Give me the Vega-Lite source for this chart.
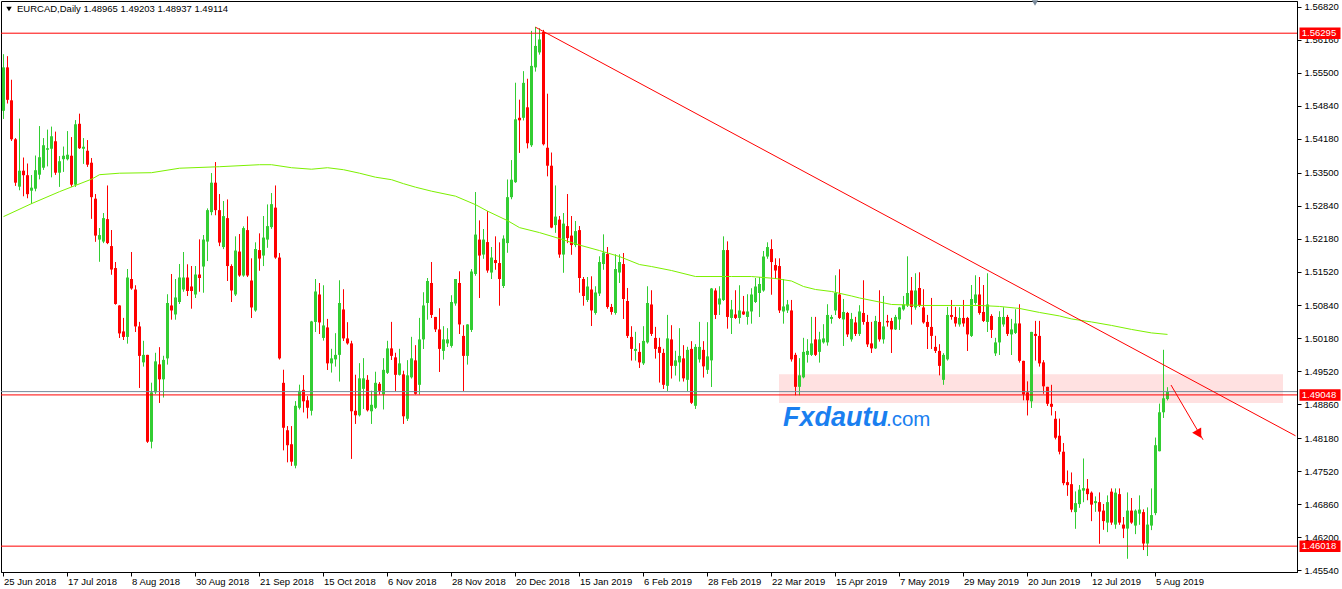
{
"$schema": "https://vega.github.io/schema/vega-lite/v6.json",
"width": 1296,
"height": 571,
"autosize": {"type": "none"},
"padding": {"left": 1, "top": 1, "right": 45, "bottom": 17},
"background": "#ffffff",
"config": {
  "view": {"stroke": "#000000", "strokeWidth": 1},
  "axis": {"labelFont": "Liberation Sans", "labelFontSize": 9.5, "labelColor": "#000000", "domainColor": "#000000", "tickColor": "#000000", "grid": false, "labelOverlap": false},
  "text": {"font": "Liberation Sans"}
},
"datasets": {
"candles": [
{"d":"2018-06-25","o":1.5474,"h":1.5587,"l":1.5458,"c":1.5561},
{"d":"2018-06-26","o":1.5561,"h":1.5583,"l":1.5489,"c":1.5496},
{"d":"2018-06-27","o":1.5495,"h":1.5536,"l":1.5414,"c":1.5417},
{"d":"2018-06-28","o":1.5417,"h":1.5419,"l":1.5324,"c":1.5330},
{"d":"2018-06-29","o":1.5322,"h":1.5458,"l":1.5315,"c":1.5354},
{"d":"2018-07-02","o":1.5354,"h":1.5380,"l":1.5303,"c":1.5345},
{"d":"2018-07-03","o":1.5345,"h":1.5368,"l":1.5299,"c":1.5307},
{"d":"2018-07-04","o":1.5314,"h":1.5345,"l":1.5288,"c":1.5320},
{"d":"2018-07-05","o":1.5318,"h":1.5384,"l":1.5313,"c":1.5355},
{"d":"2018-07-06","o":1.5346,"h":1.5443,"l":1.5337,"c":1.5381},
{"d":"2018-07-09","o":1.5360,"h":1.5419,"l":1.5356,"c":1.5405},
{"d":"2018-07-10","o":1.5396,"h":1.5436,"l":1.5363,"c":1.5399},
{"d":"2018-07-11","o":1.5398,"h":1.5442,"l":1.5341,"c":1.5423},
{"d":"2018-07-12","o":1.5413,"h":1.5432,"l":1.5346,"c":1.5350},
{"d":"2018-07-13","o":1.5350,"h":1.5383,"l":1.5322,"c":1.5373},
{"d":"2018-07-16","o":1.5377,"h":1.5402,"l":1.5352,"c":1.5384},
{"d":"2018-07-17","o":1.5377,"h":1.5433,"l":1.5375,"c":1.5386},
{"d":"2018-07-18","o":1.5384,"h":1.5421,"l":1.5322,"c":1.5326},
{"d":"2018-07-19","o":1.5326,"h":1.5455,"l":1.5322,"c":1.5447},
{"d":"2018-07-20","o":1.5448,"h":1.5468,"l":1.5398,"c":1.5399},
{"d":"2018-07-23","o":1.5398,"h":1.5419,"l":1.5368,"c":1.5402},
{"d":"2018-07-24","o":1.5394,"h":1.5415,"l":1.5362,"c":1.5366},
{"d":"2018-07-25","o":1.5370,"h":1.5379,"l":1.5258,"c":1.5301},
{"d":"2018-07-26","o":1.5298,"h":1.5307,"l":1.5212,"c":1.5224},
{"d":"2018-07-27","o":1.5216,"h":1.5239,"l":1.5172,"c":1.5225},
{"d":"2018-07-30","o":1.5212,"h":1.5269,"l":1.5209,"c":1.5259},
{"d":"2018-07-31","o":1.5257,"h":1.5324,"l":1.5207,"c":1.5209},
{"d":"2018-08-01","o":1.5203,"h":1.5235,"l":1.5146,"c":1.5156},
{"d":"2018-08-02","o":1.5159,"h":1.5171,"l":1.5086,"c":1.5087},
{"d":"2018-08-03","o":1.5084,"h":1.5084,"l":1.5019,"c":1.5028},
{"d":"2018-08-06","o":1.5032,"h":1.5059,"l":1.5015,"c":1.5021},
{"d":"2018-08-07","o":1.5021,"h":1.5157,"l":1.5008,"c":1.5140},
{"d":"2018-08-08","o":1.5137,"h":1.5191,"l":1.5116,"c":1.5118},
{"d":"2018-08-09","o":1.5116,"h":1.5124,"l":1.5031,"c":1.5042},
{"d":"2018-08-10","o":1.5042,"h":1.5051,"l":1.4919,"c":1.4983},
{"d":"2018-08-13","o":1.4970,"h":1.5013,"l":1.4962,"c":1.4985},
{"d":"2018-08-14","o":1.4985,"h":1.4985,"l":1.4809,"c":1.4811},
{"d":"2018-08-15","o":1.4811,"h":1.4929,"l":1.4798,"c":1.4910},
{"d":"2018-08-16","o":1.4910,"h":1.4989,"l":1.4907,"c":1.4972},
{"d":"2018-08-17","o":1.4966,"h":1.5000,"l":1.4889,"c":1.4936},
{"d":"2018-08-20","o":1.4936,"h":1.4983,"l":1.4900,"c":1.4975},
{"d":"2018-08-21","o":1.4978,"h":1.5106,"l":1.4966,"c":1.5089},
{"d":"2018-08-22","o":1.5084,"h":1.5147,"l":1.5056,"c":1.5074},
{"d":"2018-08-23","o":1.5066,"h":1.5137,"l":1.5056,"c":1.5100},
{"d":"2018-08-24","o":1.5091,"h":1.5167,"l":1.5087,"c":1.5140},
{"d":"2018-08-27","o":1.5116,"h":1.5191,"l":1.5112,"c":1.5140},
{"d":"2018-08-28","o":1.5140,"h":1.5166,"l":1.5103,"c":1.5113},
{"d":"2018-08-29","o":1.5122,"h":1.5163,"l":1.5078,"c":1.5113},
{"d":"2018-08-30","o":1.5106,"h":1.5163,"l":1.5099,"c":1.5146},
{"d":"2018-08-31","o":1.5146,"h":1.5216,"l":1.5112,"c":1.5139},
{"d":"2018-09-03","o":1.5162,"h":1.5225,"l":1.5110,"c":1.5216},
{"d":"2018-09-04","o":1.5212,"h":1.5278,"l":1.5173,"c":1.5275},
{"d":"2018-09-05","o":1.5271,"h":1.5349,"l":1.5265,"c":1.5330},
{"d":"2018-09-06","o":1.5330,"h":1.5371,"l":1.5265,"c":1.5275},
{"d":"2018-09-07","o":1.5275,"h":1.5307,"l":1.5203,"c":1.5210},
{"d":"2018-09-10","o":1.5201,"h":1.5293,"l":1.5197,"c":1.5263},
{"d":"2018-09-11","o":1.5259,"h":1.5296,"l":1.5133,"c":1.5163},
{"d":"2018-09-12","o":1.5163,"h":1.5166,"l":1.5091,"c":1.5114},
{"d":"2018-09-13","o":1.5106,"h":1.5222,"l":1.5103,"c":1.5194},
{"d":"2018-09-14","o":1.5192,"h":1.5227,"l":1.5142,"c":1.5144},
{"d":"2018-09-17","o":1.5144,"h":1.5242,"l":1.5142,"c":1.5239},
{"d":"2018-09-18","o":1.5235,"h":1.5262,"l":1.5141,"c":1.5144},
{"d":"2018-09-19","o":1.5134,"h":1.5178,"l":1.5059,"c":1.5080},
{"d":"2018-09-20","o":1.5074,"h":1.5210,"l":1.5072,"c":1.5197},
{"d":"2018-09-21","o":1.5195,"h":1.5228,"l":1.5154,"c":1.5178},
{"d":"2018-09-24","o":1.5184,"h":1.5263,"l":1.5163,"c":1.5220},
{"d":"2018-09-25","o":1.5216,"h":1.5286,"l":1.5200,"c":1.5243},
{"d":"2018-09-26","o":1.5241,"h":1.5309,"l":1.5238,"c":1.5287},
{"d":"2018-09-27","o":1.5280,"h":1.5324,"l":1.5178,"c":1.5180},
{"d":"2018-09-28","o":1.5180,"h":1.5189,"l":1.4976,"c":1.4978},
{"d":"2018-10-01","o":1.4929,"h":1.4955,"l":1.4794,"c":1.4839},
{"d":"2018-10-02","o":1.4834,"h":1.4842,"l":1.4770,"c":1.4804},
{"d":"2018-10-03","o":1.4806,"h":1.4842,"l":1.4763,"c":1.4771},
{"d":"2018-10-04","o":1.4763,"h":1.4892,"l":1.4758,"c":1.4883},
{"d":"2018-10-05","o":1.4879,"h":1.4925,"l":1.4876,"c":1.4913},
{"d":"2018-10-08","o":1.4915,"h":1.4944,"l":1.4870,"c":1.4892},
{"d":"2018-10-09","o":1.4894,"h":1.4902,"l":1.4858,"c":1.4879},
{"d":"2018-10-10","o":1.4873,"h":1.5053,"l":1.4864,"c":1.5052},
{"d":"2018-10-11","o":1.5051,"h":1.5137,"l":1.5031,"c":1.5112},
{"d":"2018-10-12","o":1.5106,"h":1.5129,"l":1.5027,"c":1.5050},
{"d":"2018-10-15","o":1.5019,"h":1.5124,"l":1.5014,"c":1.5044},
{"d":"2018-10-16","o":1.5040,"h":1.5057,"l":1.4955,"c":1.4968},
{"d":"2018-10-17","o":1.4968,"h":1.4997,"l":1.4950,"c":1.4978},
{"d":"2018-10-18","o":1.4976,"h":1.5028,"l":1.4962,"c":1.4985},
{"d":"2018-10-19","o":1.4985,"h":1.5134,"l":1.4932,"c":1.5089},
{"d":"2018-10-22","o":1.5076,"h":1.5116,"l":1.5013,"c":1.5018},
{"d":"2018-10-23","o":1.5018,"h":1.5050,"l":1.5006,"c":1.5008},
{"d":"2018-10-24","o":1.5008,"h":1.5013,"l":1.4777,"c":1.4872},
{"d":"2018-10-25","o":1.4873,"h":1.4945,"l":1.4847,"c":1.4864},
{"d":"2018-10-26","o":1.4864,"h":1.4968,"l":1.4862,"c":1.4938},
{"d":"2018-10-29","o":1.4917,"h":1.4978,"l":1.4877,"c":1.4938},
{"d":"2018-10-30","o":1.4935,"h":1.4944,"l":1.4872,"c":1.4874},
{"d":"2018-10-31","o":1.4872,"h":1.4913,"l":1.4847,"c":1.4885},
{"d":"2018-11-01","o":1.4879,"h":1.4951,"l":1.4877,"c":1.4929},
{"d":"2018-11-02","o":1.4927,"h":1.4930,"l":1.4906,"c":1.4913},
{"d":"2018-11-05","o":1.4906,"h":1.4978,"l":1.4876,"c":1.4955},
{"d":"2018-11-06","o":1.4949,"h":1.5013,"l":1.4947,"c":1.4998},
{"d":"2018-11-07","o":1.4998,"h":1.5051,"l":1.4975,"c":1.4983},
{"d":"2018-11-08","o":1.4980,"h":1.4989,"l":1.4913,"c":1.4945},
{"d":"2018-11-09","o":1.4945,"h":1.4997,"l":1.4944,"c":1.4968},
{"d":"2018-11-12","o":1.4946,"h":1.4953,"l":1.4847,"c":1.4862},
{"d":"2018-11-13","o":1.4857,"h":1.4974,"l":1.4853,"c":1.4944},
{"d":"2018-11-14","o":1.4940,"h":1.5021,"l":1.4938,"c":1.4978},
{"d":"2018-11-15","o":1.4974,"h":1.5004,"l":1.4906,"c":1.4907},
{"d":"2018-11-16","o":1.4925,"h":1.5059,"l":1.4906,"c":1.5016},
{"d":"2018-11-19","o":1.5016,"h":1.5110,"l":1.4997,"c":1.5084},
{"d":"2018-11-20","o":1.5089,"h":1.5139,"l":1.5056,"c":1.5133},
{"d":"2018-11-21","o":1.5129,"h":1.5171,"l":1.5059,"c":1.5065},
{"d":"2018-11-22","o":1.5061,"h":1.5061,"l":1.5031,"c":1.5036},
{"d":"2018-11-23","o":1.5036,"h":1.5078,"l":1.4951,"c":1.4997},
{"d":"2018-11-26","o":1.4993,"h":1.5042,"l":1.4976,"c":1.5016},
{"d":"2018-11-27","o":1.5008,"h":1.5038,"l":1.5001,"c":1.5016},
{"d":"2018-11-28","o":1.5003,"h":1.5104,"l":1.5000,"c":1.5091},
{"d":"2018-11-29","o":1.5088,"h":1.5137,"l":1.5084,"c":1.5137},
{"d":"2018-11-30","o":1.5129,"h":1.5152,"l":1.5027,"c":1.5046},
{"d":"2018-12-03","o":1.5023,"h":1.5044,"l":1.4913,"c":1.4983},
{"d":"2018-12-04","o":1.4983,"h":1.5046,"l":1.4966,"c":1.5046},
{"d":"2018-12-05","o":1.5035,"h":1.5157,"l":1.5031,"c":1.5152},
{"d":"2018-12-06","o":1.5147,"h":1.5311,"l":1.5144,"c":1.5226},
{"d":"2018-12-07","o":1.5216,"h":1.5254,"l":1.5099,"c":1.5184},
{"d":"2018-12-10","o":1.5186,"h":1.5237,"l":1.5178,"c":1.5216},
{"d":"2018-12-11","o":1.5211,"h":1.5273,"l":1.5150,"c":1.5154},
{"d":"2018-12-12","o":1.5150,"h":1.5201,"l":1.5137,"c":1.5180},
{"d":"2018-12-13","o":1.5175,"h":1.5222,"l":1.5156,"c":1.5169},
{"d":"2018-12-14","o":1.5169,"h":1.5210,"l":1.5084,"c":1.5137},
{"d":"2018-12-17","o":1.5123,"h":1.5224,"l":1.5119,"c":1.5218},
{"d":"2018-12-18","o":1.5209,"h":1.5336,"l":1.5190,"c":1.5301},
{"d":"2018-12-19","o":1.5301,"h":1.5375,"l":1.5297,"c":1.5336},
{"d":"2018-12-20","o":1.5331,"h":1.5530,"l":1.5330,"c":1.5457},
{"d":"2018-12-21","o":1.5460,"h":1.5496,"l":1.5390,"c":1.5455},
{"d":"2018-12-24","o":1.5460,"h":1.5553,"l":1.5455,"c":1.5530},
{"d":"2018-12-26","o":1.5481,"h":1.5538,"l":1.5399,"c":1.5409},
{"d":"2018-12-27","o":1.5405,"h":1.5634,"l":1.5402,"c":1.5564},
{"d":"2018-12-28","o":1.5561,"h":1.5642,"l":1.5553,"c":1.5604},
{"d":"2018-12-31","o":1.5591,"h":1.5639,"l":1.5587,"c":1.5617},
{"d":"2019-01-02","o":1.5632,"h":1.5636,"l":1.5405,"c":1.5407},
{"d":"2019-01-03","o":1.5400,"h":1.5508,"l":1.5343,"c":1.5364},
{"d":"2019-01-04","o":1.5364,"h":1.5390,"l":1.5239,"c":1.5240},
{"d":"2019-01-07","o":1.5245,"h":1.5324,"l":1.5230,"c":1.5262},
{"d":"2019-01-08","o":1.5256,"h":1.5263,"l":1.5180,"c":1.5186},
{"d":"2019-01-09","o":1.5186,"h":1.5269,"l":1.5150,"c":1.5248},
{"d":"2019-01-10","o":1.5243,"h":1.5307,"l":1.5209,"c":1.5219},
{"d":"2019-01-11","o":1.5224,"h":1.5263,"l":1.5186,"c":1.5205},
{"d":"2019-01-14","o":1.5205,"h":1.5253,"l":1.5201,"c":1.5233},
{"d":"2019-01-15","o":1.5235,"h":1.5243,"l":1.5110,"c":1.5139},
{"d":"2019-01-16","o":1.5137,"h":1.5141,"l":1.5084,"c":1.5103},
{"d":"2019-01-17","o":1.5095,"h":1.5141,"l":1.5091,"c":1.5122},
{"d":"2019-01-18","o":1.5116,"h":1.5142,"l":1.5043,"c":1.5074},
{"d":"2019-01-21","o":1.5069,"h":1.5122,"l":1.5066,"c":1.5110},
{"d":"2019-01-22","o":1.5108,"h":1.5182,"l":1.5103,"c":1.5171},
{"d":"2019-01-23","o":1.5167,"h":1.5226,"l":1.5156,"c":1.5190},
{"d":"2019-01-24","o":1.5187,"h":1.5201,"l":1.5078,"c":1.5081},
{"d":"2019-01-25","o":1.5081,"h":1.5087,"l":1.5066,"c":1.5071},
{"d":"2019-01-28","o":1.5069,"h":1.5186,"l":1.5066,"c":1.5157},
{"d":"2019-01-29","o":1.5150,"h":1.5186,"l":1.5129,"c":1.5171},
{"d":"2019-01-30","o":1.5167,"h":1.5189,"l":1.5057,"c":1.5097},
{"d":"2019-01-31","o":1.5093,"h":1.5119,"l":1.5019,"c":1.5023},
{"d":"2019-02-01","o":1.5021,"h":1.5042,"l":1.4974,"c":1.4997},
{"d":"2019-02-04","o":1.4993,"h":1.5031,"l":1.4974,"c":1.4997},
{"d":"2019-02-05","o":1.4991,"h":1.5008,"l":1.4959,"c":1.4970},
{"d":"2019-02-06","o":1.4968,"h":1.5042,"l":1.4965,"c":1.5013},
{"d":"2019-02-07","o":1.5010,"h":1.5122,"l":1.5008,"c":1.5089},
{"d":"2019-02-08","o":1.5086,"h":1.5114,"l":1.5023,"c":1.5027},
{"d":"2019-02-11","o":1.5019,"h":1.5041,"l":1.4978,"c":1.4997},
{"d":"2019-02-12","o":1.5001,"h":1.5019,"l":1.4930,"c":1.4989},
{"d":"2019-02-13","o":1.4989,"h":1.4997,"l":1.4917,"c":1.4925},
{"d":"2019-02-14","o":1.4923,"h":1.5065,"l":1.4913,"c":1.5018},
{"d":"2019-02-15","o":1.5016,"h":1.5044,"l":1.4938,"c":1.4963},
{"d":"2019-02-18","o":1.4963,"h":1.4993,"l":1.4944,"c":1.4974},
{"d":"2019-02-19","o":1.4970,"h":1.5038,"l":1.4932,"c":1.4983},
{"d":"2019-02-20","o":1.4978,"h":1.5004,"l":1.4932,"c":1.4938},
{"d":"2019-02-21","o":1.4935,"h":1.5001,"l":1.4913,"c":1.4995},
{"d":"2019-02-22","o":1.4997,"h":1.5012,"l":1.4887,"c":1.4889},
{"d":"2019-02-25","o":1.4883,"h":1.5006,"l":1.4877,"c":1.5001},
{"d":"2019-02-26","o":1.4976,"h":1.5051,"l":1.4970,"c":1.5001},
{"d":"2019-02-27","o":1.4995,"h":1.5012,"l":1.4940,"c":1.4962},
{"d":"2019-02-28","o":1.4955,"h":1.5050,"l":1.4947,"c":1.4982},
{"d":"2019-03-01","o":1.4974,"h":1.5119,"l":1.4921,"c":1.5118},
{"d":"2019-03-04","o":1.5114,"h":1.5118,"l":1.5057,"c":1.5065},
{"d":"2019-03-05","o":1.5086,"h":1.5122,"l":1.5065,"c":1.5098},
{"d":"2019-03-06","o":1.5095,"h":1.5222,"l":1.5093,"c":1.5195},
{"d":"2019-03-07","o":1.5195,"h":1.5212,"l":1.5038,"c":1.5061},
{"d":"2019-03-08","o":1.5059,"h":1.5095,"l":1.5027,"c":1.5076},
{"d":"2019-03-11","o":1.5066,"h":1.5114,"l":1.5057,"c":1.5059},
{"d":"2019-03-12","o":1.5059,"h":1.5124,"l":1.5048,"c":1.5074},
{"d":"2019-03-13","o":1.5072,"h":1.5103,"l":1.5065,"c":1.5066},
{"d":"2019-03-14","o":1.5061,"h":1.5106,"l":1.5046,"c":1.5072},
{"d":"2019-03-15","o":1.5072,"h":1.5118,"l":1.5048,"c":1.5106},
{"d":"2019-03-18","o":1.5091,"h":1.5139,"l":1.5089,"c":1.5122},
{"d":"2019-03-19","o":1.5109,"h":1.5141,"l":1.5061,"c":1.5127},
{"d":"2019-03-20","o":1.5114,"h":1.5193,"l":1.5112,"c":1.5182},
{"d":"2019-03-21","o":1.5182,"h":1.5210,"l":1.5178,"c":1.5201},
{"d":"2019-03-22","o":1.5197,"h":1.5216,"l":1.5106,"c":1.5171},
{"d":"2019-03-25","o":1.5165,"h":1.5178,"l":1.5137,"c":1.5154},
{"d":"2019-03-26","o":1.5163,"h":1.5178,"l":1.5069,"c":1.5074},
{"d":"2019-03-27","o":1.5072,"h":1.5137,"l":1.5048,"c":1.5082},
{"d":"2019-03-28","o":1.5074,"h":1.5095,"l":1.5069,"c":1.5086},
{"d":"2019-03-29","o":1.5074,"h":1.5095,"l":1.4972,"c":1.4976},
{"d":"2019-04-01","o":1.4985,"h":1.4989,"l":1.4904,"c":1.4921},
{"d":"2019-04-02","o":1.4921,"h":1.4978,"l":1.4904,"c":1.4944},
{"d":"2019-04-03","o":1.4940,"h":1.5019,"l":1.4938,"c":1.4991},
{"d":"2019-04-04","o":1.4985,"h":1.5016,"l":1.4970,"c":1.4993},
{"d":"2019-04-05","o":1.4985,"h":1.5061,"l":1.4983,"c":1.5008},
{"d":"2019-04-08","o":1.5016,"h":1.5061,"l":1.4983,"c":1.4985},
{"d":"2019-04-09","o":1.4991,"h":1.5031,"l":1.4970,"c":1.5016},
{"d":"2019-04-10","o":1.5010,"h":1.5046,"l":1.5008,"c":1.5018},
{"d":"2019-04-11","o":1.5010,"h":1.5086,"l":1.5004,"c":1.5065},
{"d":"2019-04-12","o":1.5057,"h":1.5065,"l":1.5048,"c":1.5061},
{"d":"2019-04-15","o":1.5074,"h":1.5144,"l":1.5065,"c":1.5109},
{"d":"2019-04-16","o":1.5106,"h":1.5156,"l":1.5057,"c":1.5059},
{"d":"2019-04-17","o":1.5056,"h":1.5097,"l":1.5003,"c":1.5071},
{"d":"2019-04-18","o":1.5069,"h":1.5071,"l":1.5021,"c":1.5026},
{"d":"2019-04-19","o":1.5016,"h":1.5069,"l":1.5012,"c":1.5057},
{"d":"2019-04-22","o":1.5050,"h":1.5061,"l":1.5023,"c":1.5027},
{"d":"2019-04-23","o":1.5027,"h":1.5084,"l":1.5023,"c":1.5072},
{"d":"2019-04-24","o":1.5069,"h":1.5134,"l":1.5046,"c":1.5051},
{"d":"2019-04-25","o":1.5051,"h":1.5065,"l":1.5001,"c":1.5006},
{"d":"2019-04-26","o":1.5008,"h":1.5051,"l":1.4989,"c":1.4998},
{"d":"2019-04-29","o":1.4998,"h":1.5063,"l":1.4997,"c":1.5053},
{"d":"2019-04-30","o":1.5051,"h":1.5114,"l":1.5012,"c":1.5016},
{"d":"2019-05-01","o":1.5016,"h":1.5103,"l":1.5008,"c":1.5042},
{"d":"2019-05-02","o":1.5053,"h":1.5065,"l":1.5042,"c":1.5050},
{"d":"2019-05-03","o":1.5053,"h":1.5059,"l":1.4989,"c":1.5036},
{"d":"2019-05-06","o":1.5036,"h":1.5065,"l":1.5035,"c":1.5061},
{"d":"2019-05-07","o":1.5056,"h":1.5081,"l":1.5035,"c":1.5080},
{"d":"2019-05-08","o":1.5076,"h":1.5103,"l":1.5074,"c":1.5086},
{"d":"2019-05-09","o":1.5084,"h":1.5182,"l":1.5081,"c":1.5109},
{"d":"2019-05-10","o":1.5114,"h":1.5141,"l":1.5046,"c":1.5081},
{"d":"2019-05-13","o":1.5080,"h":1.5148,"l":1.5076,"c":1.5114},
{"d":"2019-05-14","o":1.5119,"h":1.5150,"l":1.5081,"c":1.5084},
{"d":"2019-05-15","o":1.5080,"h":1.5116,"l":1.5048,"c":1.5050},
{"d":"2019-05-16","o":1.5051,"h":1.5065,"l":1.4997,"c":1.5041},
{"d":"2019-05-17","o":1.5041,"h":1.5099,"l":1.4997,"c":1.5023},
{"d":"2019-05-20","o":1.5001,"h":1.5023,"l":1.4989,"c":1.4993},
{"d":"2019-05-21","o":1.4993,"h":1.5006,"l":1.4944,"c":1.4963},
{"d":"2019-05-22","o":1.4935,"h":1.4988,"l":1.4925,"c":1.4985},
{"d":"2019-05-23","o":1.4976,"h":1.5081,"l":1.4974,"c":1.5065},
{"d":"2019-05-24","o":1.5065,"h":1.5095,"l":1.5056,"c":1.5061},
{"d":"2019-05-27","o":1.5061,"h":1.5081,"l":1.5042,"c":1.5048},
{"d":"2019-05-28","o":1.5046,"h":1.5080,"l":1.5042,"c":1.5059},
{"d":"2019-05-29","o":1.5059,"h":1.5095,"l":1.5042,"c":1.5048},
{"d":"2019-05-30","o":1.5059,"h":1.5061,"l":1.4993,"c":1.5026},
{"d":"2019-05-31","o":1.5023,"h":1.5125,"l":1.5021,"c":1.5097},
{"d":"2019-06-03","o":1.5089,"h":1.5144,"l":1.5086,"c":1.5106},
{"d":"2019-06-04","o":1.5106,"h":1.5141,"l":1.5066,"c":1.5069},
{"d":"2019-06-05","o":1.5071,"h":1.5125,"l":1.5051,"c":1.5053},
{"d":"2019-06-06","o":1.5051,"h":1.5148,"l":1.5031,"c":1.5086},
{"d":"2019-06-07","o":1.5063,"h":1.5066,"l":1.5019,"c":1.5035},
{"d":"2019-06-10","o":1.4988,"h":1.5019,"l":1.4983,"c":1.5010},
{"d":"2019-06-11","o":1.5010,"h":1.5072,"l":1.4985,"c":1.5061},
{"d":"2019-06-12","o":1.5046,"h":1.5080,"l":1.5042,"c":1.5061},
{"d":"2019-06-13","o":1.5061,"h":1.5065,"l":1.5023,"c":1.5027},
{"d":"2019-06-14","o":1.5026,"h":1.5057,"l":1.4985,"c":1.5036},
{"d":"2019-06-17","o":1.5029,"h":1.5076,"l":1.5027,"c":1.5048},
{"d":"2019-06-18","o":1.5048,"h":1.5086,"l":1.4970,"c":1.4973},
{"d":"2019-06-19","o":1.4973,"h":1.4973,"l":1.4894,"c":1.4906},
{"d":"2019-06-20","o":1.4910,"h":1.4932,"l":1.4864,"c":1.4894},
{"d":"2019-06-21","o":1.4892,"h":1.5031,"l":1.4879,"c":1.5031},
{"d":"2019-06-24","o":1.5027,"h":1.5053,"l":1.4974,"c":1.5023},
{"d":"2019-06-25","o":1.5023,"h":1.5053,"l":1.4962,"c":1.4968},
{"d":"2019-06-26","o":1.4970,"h":1.4974,"l":1.4907,"c":1.4922},
{"d":"2019-06-27","o":1.4921,"h":1.4921,"l":1.4883,"c":1.4887},
{"d":"2019-06-28","o":1.4887,"h":1.4925,"l":1.4864,"c":1.4881},
{"d":"2019-07-01","o":1.4857,"h":1.4872,"l":1.4816,"c":1.4819},
{"d":"2019-07-02","o":1.4823,"h":1.4857,"l":1.4786,"c":1.4791},
{"d":"2019-07-03","o":1.4791,"h":1.4808,"l":1.4724,"c":1.4728},
{"d":"2019-07-04","o":1.4730,"h":1.4753,"l":1.4703,"c":1.4724},
{"d":"2019-07-05","o":1.4726,"h":1.4749,"l":1.4670,"c":1.4675},
{"d":"2019-07-08","o":1.4670,"h":1.4711,"l":1.4637,"c":1.4688},
{"d":"2019-07-09","o":1.4686,"h":1.4724,"l":1.4679,"c":1.4715},
{"d":"2019-07-10","o":1.4713,"h":1.4777,"l":1.4690,"c":1.4718},
{"d":"2019-07-11","o":1.4717,"h":1.4736,"l":1.4694,"c":1.4706},
{"d":"2019-07-12","o":1.4709,"h":1.4711,"l":1.4652,"c":1.4685},
{"d":"2019-07-15","o":1.4688,"h":1.4701,"l":1.4671,"c":1.4692},
{"d":"2019-07-16","o":1.4690,"h":1.4709,"l":1.4607,"c":1.4671},
{"d":"2019-07-17","o":1.4673,"h":1.4686,"l":1.4635,"c":1.4652},
{"d":"2019-07-18","o":1.4649,"h":1.4703,"l":1.4630,"c":1.4690},
{"d":"2019-07-19","o":1.4711,"h":1.4717,"l":1.4645,"c":1.4649},
{"d":"2019-07-22","o":1.4645,"h":1.4717,"l":1.4637,"c":1.4709},
{"d":"2019-07-23","o":1.4706,"h":1.4717,"l":1.4645,"c":1.4649},
{"d":"2019-07-24","o":1.4645,"h":1.4660,"l":1.4618,"c":1.4637},
{"d":"2019-07-25","o":1.4637,"h":1.4709,"l":1.4577,"c":1.4673},
{"d":"2019-07-26","o":1.4673,"h":1.4698,"l":1.4647,"c":1.4649},
{"d":"2019-07-29","o":1.4643,"h":1.4675,"l":1.4626,"c":1.4673},
{"d":"2019-07-30","o":1.4667,"h":1.4703,"l":1.4645,"c":1.4675},
{"d":"2019-07-31","o":1.4670,"h":1.4675,"l":1.4594,"c":1.4607},
{"d":"2019-08-01","o":1.4607,"h":1.4679,"l":1.4582,"c":1.4645},
{"d":"2019-08-02","o":1.4643,"h":1.4717,"l":1.4634,"c":1.4664},
{"d":"2019-08-05","o":1.4668,"h":1.4819,"l":1.4664,"c":1.4804},
{"d":"2019-08-06","o":1.4792,"h":1.4887,"l":1.4792,"c":1.4870},
{"d":"2019-08-07","o":1.4870,"h":1.4995,"l":1.4859,"c":1.4898},
{"d":"2019-08-08","o":1.48965,"h":1.49203,"l":1.48937,"c":1.49114}
],
"ma": [
{"d":"2018-06-25","v":1.5262},{"d":"2018-07-04","v":1.5288},{"d":"2018-07-13","v":1.5312},{"d":"2018-07-25","v":1.5337},
{"d":"2018-07-27","v":1.5346},{"d":"2018-08-03","v":1.5349},{"d":"2018-08-15","v":1.5350},{"d":"2018-08-24","v":1.5359},
{"d":"2018-09-07","v":1.5362},{"d":"2018-09-21","v":1.5366},{"d":"2018-09-26","v":1.5366},{"d":"2018-10-03","v":1.5360},
{"d":"2018-10-10","v":1.5357},{"d":"2018-10-16","v":1.5360},{"d":"2018-10-22","v":1.5356},{"d":"2018-10-26","v":1.5349},
{"d":"2018-11-01","v":1.5341},{"d":"2018-11-07","v":1.5336},{"d":"2018-11-12","v":1.5328},{"d":"2018-11-15","v":1.5321},
{"d":"2018-11-21","v":1.5313},{"d":"2018-11-29","v":1.5303},{"d":"2018-12-06","v":1.5286},{"d":"2018-12-11","v":1.5273},
{"d":"2018-12-18","v":1.5254},{"d":"2018-12-21","v":1.5240},{"d":"2018-12-31","v":1.5230},{"d":"2019-01-08","v":1.5218},
{"d":"2019-01-15","v":1.5205},{"d":"2019-01-22","v":1.5194},{"d":"2019-01-29","v":1.5182},{"d":"2019-02-05","v":1.5166},
{"d":"2019-02-08","v":1.5162},{"d":"2019-02-15","v":1.5154},{"d":"2019-02-25","v":1.5142},{"d":"2019-03-08","v":1.5142},
{"d":"2019-03-15","v":1.5142},{"d":"2019-03-25","v":1.5138},{"d":"2019-03-29","v":1.5133},{"d":"2019-04-03","v":1.5122},
{"d":"2019-04-08","v":1.5116},{"d":"2019-04-12","v":1.5112},{"d":"2019-04-19","v":1.5103},{"d":"2019-04-23","v":1.5099},
{"d":"2019-05-03","v":1.5086},{"d":"2019-05-15","v":1.5084},{"d":"2019-05-27","v":1.5084},{"d":"2019-06-04","v":1.5084},
{"d":"2019-06-11","v":1.5082},{"d":"2019-06-18","v":1.5078},{"d":"2019-06-25","v":1.5070},{"d":"2019-07-02","v":1.5063},
{"d":"2019-07-05","v":1.5057},{"d":"2019-07-12","v":1.5051},{"d":"2019-07-19","v":1.5044},{"d":"2019-07-26","v":1.5036},
{"d":"2019-08-02","v":1.5029},{"d":"2019-08-08","v":1.5026}
],
"levels": [{"p":1.56295},{"p":1.49048},{"p":1.46018}]
},
"layer": [
{
  "data": {"name":"candles"},
  "mark": {"type":"rule","strokeWidth":1,"xOffset":0.5},
  "encoding": {
    "x": {"field":"d","type":"ordinal",
      "scale": {"type":"band","paddingInner":0,"paddingOuter":0,"domain":[
"2018-06-25","2018-06-26","2018-06-27","2018-06-28","2018-06-29",
"2018-07-02","2018-07-03","2018-07-04","2018-07-05","2018-07-06",
"2018-07-09","2018-07-10","2018-07-11","2018-07-12","2018-07-13",
"2018-07-16","2018-07-17","2018-07-18","2018-07-19","2018-07-20",
"2018-07-23","2018-07-24","2018-07-25","2018-07-26","2018-07-27",
"2018-07-30","2018-07-31","2018-08-01","2018-08-02","2018-08-03",
"2018-08-06","2018-08-07","2018-08-08","2018-08-09","2018-08-10",
"2018-08-13","2018-08-14","2018-08-15","2018-08-16","2018-08-17",
"2018-08-20","2018-08-21","2018-08-22","2018-08-23","2018-08-24",
"2018-08-27","2018-08-28","2018-08-29","2018-08-30","2018-08-31",
"2018-09-03","2018-09-04","2018-09-05","2018-09-06","2018-09-07",
"2018-09-10","2018-09-11","2018-09-12","2018-09-13","2018-09-14",
"2018-09-17","2018-09-18","2018-09-19","2018-09-20","2018-09-21",
"2018-09-24","2018-09-25","2018-09-26","2018-09-27","2018-09-28",
"2018-10-01","2018-10-02","2018-10-03","2018-10-04","2018-10-05",
"2018-10-08","2018-10-09","2018-10-10","2018-10-11","2018-10-12",
"2018-10-15","2018-10-16","2018-10-17","2018-10-18","2018-10-19",
"2018-10-22","2018-10-23","2018-10-24","2018-10-25","2018-10-26",
"2018-10-29","2018-10-30","2018-10-31","2018-11-01","2018-11-02",
"2018-11-05","2018-11-06","2018-11-07","2018-11-08","2018-11-09",
"2018-11-12","2018-11-13","2018-11-14","2018-11-15","2018-11-16",
"2018-11-19","2018-11-20","2018-11-21","2018-11-22","2018-11-23",
"2018-11-26","2018-11-27","2018-11-28","2018-11-29","2018-11-30",
"2018-12-03","2018-12-04","2018-12-05","2018-12-06","2018-12-07",
"2018-12-10","2018-12-11","2018-12-12","2018-12-13","2018-12-14",
"2018-12-17","2018-12-18","2018-12-19","2018-12-20","2018-12-21",
"2018-12-24","2018-12-26","2018-12-27","2018-12-28","2018-12-31",
"2019-01-02","2019-01-03","2019-01-04",
"2019-01-07","2019-01-08","2019-01-09","2019-01-10","2019-01-11",
"2019-01-14","2019-01-15","2019-01-16","2019-01-17","2019-01-18",
"2019-01-21","2019-01-22","2019-01-23","2019-01-24","2019-01-25",
"2019-01-28","2019-01-29","2019-01-30","2019-01-31","2019-02-01",
"2019-02-04","2019-02-05","2019-02-06","2019-02-07","2019-02-08",
"2019-02-11","2019-02-12","2019-02-13","2019-02-14","2019-02-15",
"2019-02-18","2019-02-19","2019-02-20","2019-02-21","2019-02-22",
"2019-02-25","2019-02-26","2019-02-27","2019-02-28","2019-03-01",
"2019-03-04","2019-03-05","2019-03-06","2019-03-07","2019-03-08",
"2019-03-11","2019-03-12","2019-03-13","2019-03-14","2019-03-15",
"2019-03-18","2019-03-19","2019-03-20","2019-03-21","2019-03-22",
"2019-03-25","2019-03-26","2019-03-27","2019-03-28","2019-03-29",
"2019-04-01","2019-04-02","2019-04-03","2019-04-04","2019-04-05",
"2019-04-08","2019-04-09","2019-04-10","2019-04-11","2019-04-12",
"2019-04-15","2019-04-16","2019-04-17","2019-04-18","2019-04-19",
"2019-04-22","2019-04-23","2019-04-24","2019-04-25","2019-04-26",
"2019-04-29","2019-04-30","2019-05-01","2019-05-02","2019-05-03",
"2019-05-06","2019-05-07","2019-05-08","2019-05-09","2019-05-10",
"2019-05-13","2019-05-14","2019-05-15","2019-05-16","2019-05-17",
"2019-05-20","2019-05-21","2019-05-22","2019-05-23","2019-05-24",
"2019-05-27","2019-05-28","2019-05-29","2019-05-30","2019-05-31",
"2019-06-03","2019-06-04","2019-06-05","2019-06-06","2019-06-07",
"2019-06-10","2019-06-11","2019-06-12","2019-06-13","2019-06-14",
"2019-06-17","2019-06-18","2019-06-19","2019-06-20","2019-06-21",
"2019-06-24","2019-06-25","2019-06-26","2019-06-27","2019-06-28",
"2019-07-01","2019-07-02","2019-07-03","2019-07-04","2019-07-05",
"2019-07-08","2019-07-09","2019-07-10","2019-07-11","2019-07-12",
"2019-07-15","2019-07-16","2019-07-17","2019-07-18","2019-07-19",
"2019-07-22","2019-07-23","2019-07-24","2019-07-25","2019-07-26",
"2019-07-29","2019-07-30","2019-07-31","2019-08-01","2019-08-02",
"2019-08-05","2019-08-06","2019-08-07","2019-08-08","2019-08-09",
"2019-08-12","2019-08-13","2019-08-14","2019-08-15","2019-08-16",
"2019-08-19","2019-08-20","2019-08-21","2019-08-22","2019-08-23",
"2019-08-26","2019-08-27","2019-08-28","2019-08-29","2019-08-30",
"2019-09-02","2019-09-03","2019-09-04","2019-09-05","2019-09-06",
"2019-09-09","2019-09-10","2019-09-11","2019-09-12","2019-09-13",
"2019-09-16","2019-09-17","2019-09-18","2019-09-19","2019-09-20",
"2019-09-23"]},
      "axis": {"title": null, "values": ["2018-06-25","2018-07-17","2018-08-08","2018-08-30","2018-09-21","2018-10-15","2018-11-06","2018-11-28","2018-12-20","2019-01-15","2019-02-06","2019-02-28","2019-03-22","2019-04-15","2019-05-07","2019-05-29","2019-06-20","2019-07-12","2019-08-05"],
        "labelExpr": "utcFormat(toDate(datum.value), '%-d %b %Y')",
        "labelAlign": "left", "labelAngle": 0, "labelOffset": 1, "tickSize": 4, "labelPadding": 0,
        "labelOverlap": false, "labelFlush": false, "labelBound": false}
    },
    "y": {"field":"l","type":"quantitative",
      "scale": {"domain":[1.4550,1.5694],"zero":false,"nice":false},
      "axis": {"title": null, "orient": "right", "tickCount": 40,
        "values": [1.4554,1.462,1.4686,1.4752,1.4818,1.4886,1.4952,1.5018,1.5084,1.5152,1.5218,1.5284,1.535,1.5418,1.5484,1.555,1.5616,1.5682],
        "format": ".5f", "tickSize": 4, "labelPadding": 3,
        "labelOverlap": false, "labelFlush": false, "labelBound": false}
    },
    "y2": {"field":"h"},
    "color": {"condition": {"test":"datum.c >= datum.o","value":"#32cd32"},"value":"#ff0000"}
  }
},
{
  "data": {"values": [{"from":"2019-03-26","to":"2019-09-18","top":1.49461,"bottom":1.48886}]},
  "mark": {"type":"rect","color":"#ffe1e1","opacity":1},
  "encoding": {
    "x": {"field":"from","type":"ordinal"},
    "x2": {"field":"to"},
    "y": {"field":"top","type":"quantitative"},
    "y2": {"field":"bottom"}
  }
},
{
  "data": {"name":"candles"},
  "mark": {"type":"rule","strokeWidth":1,"xOffset":0.5},
  "encoding": {
    "x": {"field":"d","type":"ordinal"},
    "y": {"field":"l","type":"quantitative"},
    "y2": {"field":"h"},
    "color": {"condition": {"test":"datum.c >= datum.o","value":"#32cd32"},"value":"#ff0000"}
  }
},
{
  "data": {"name":"candles"},
  "mark": {"type":"bar","width":3,"xOffset":0.5},
  "encoding": {
    "x": {"field":"d","type":"ordinal"},
    "y": {"field":"o","type":"quantitative"},
    "y2": {"field":"c"},
    "color": {"condition": {"test":"datum.c >= datum.o","value":"#32cd32"},"value":"#ff0000"}
  }
},
{
  "data": {"name":"ma"},
  "mark": {"type":"line","color":"#7cf000","strokeWidth":1,"xOffset":0.5},
  "encoding": {
    "x": {"field":"d","type":"ordinal"},
    "y": {"field":"v","type":"quantitative"}
  }
},
{
  "data": {"name":"levels"},
  "mark": {"type":"rule","color":"#ff0000","strokeWidth":1},
  "encoding": {"y": {"field":"p","type":"quantitative"}}
},
{
  "data": {"values": [{"p":1.49114}]},
  "mark": {"type":"rule","color":"#778899","strokeWidth":1},
  "encoding": {"y": {"field":"p","type":"quantitative"}}
},
{
  "data": {"values": [{"d":"2018-12-28","p":1.56415},{"d":"2019-09-23","p":1.48229}]},
  "mark": {"type":"line","color":"#ff0000","strokeWidth":1,"xOffset":0.5},
  "encoding": {
    "x": {"field":"d","type":"ordinal"},
    "y": {"field":"p","type":"quantitative"}
  }
},
{
  "data": {"values": [{"d":"2019-08-09","p":1.49246},{"d":"2019-08-21","p":1.4815}]},
  "mark": {"type":"line","color":"#ff0000","strokeWidth":1},
  "encoding": {
    "x": {"field":"d","type":"ordinal"},
    "y": {"field":"p","type":"quantitative"}
  }
},
{
  "data": {"values": [{"d":"2019-08-20","p":1.48265}]},
  "mark": {"type":"point","shape":"triangle-down","filled":true,"color":"#ff0000","opacity":1,"size":110,"angle":-31},
  "encoding": {
    "x": {"field":"d","type":"ordinal"},
    "y": {"field":"p","type":"quantitative"}
  }
},
{
  "data": {"values": [{"d":"2019-06-24","p":1.5694}]},
  "mark": {"type":"point","shape":"triangle-down","filled":true,"color":"#778899","opacity":1,"size":40,"yOffset":2},
  "encoding": {
    "x": {"field":"d","type":"ordinal"},
    "y": {"field":"p","type":"quantitative"}
  }
},
{
  "data": {"values": [{"d":"2019-03-27","p":1.48431,"t":"Fxdautu"}]},
  "mark": {"type":"text","font":"Liberation Sans","fontSize":27,"fontWeight":"bold","fontStyle":"italic","color":"#1a7ff0","align":"left","baseline":"alphabetic"},
  "encoding": {
    "x": {"field":"d","type":"ordinal"},
    "y": {"field":"p","type":"quantitative"},
    "text": {"field":"t"}
  }
},
{
  "data": {"values": [{"d":"2019-05-02","p":1.48431,"t":".com"}]},
  "mark": {"type":"text","font":"Liberation Sans","fontSize":20.5,"color":"#1a7ff0","align":"left","baseline":"alphabetic","dx":-1},
  "encoding": {
    "x": {"field":"d","type":"ordinal"},
    "y": {"field":"p","type":"quantitative"},
    "text": {"field":"t"}
  }
},
{
  "data": {"values": [{"d":"2018-06-25","p":1.5694}]},
  "mark": {"type":"point","shape":"triangle-down","filled":true,"color":"#000000","opacity":1,"size":30,"xOffset":6,"yOffset":8},
  "encoding": {
    "x": {"field":"d","type":"ordinal"},
    "y": {"field":"p","type":"quantitative"}
  }
},
{
  "data": {"values": [{"d":"2018-06-25","p":1.5694,"t":"EURCAD,Daily  1.48965 1.49203 1.48937 1.49114"}]},
  "mark": {"type":"text","font":"Liberation Sans","fontSize":9.5,"color":"#000000","align":"left","baseline":"top","dx":14,"dy":3},
  "encoding": {
    "x": {"field":"d","type":"ordinal"},
    "y": {"field":"p","type":"quantitative"},
    "text": {"field":"t"}
  }
},
{
  "data": {"name":"levels"},
  "mark": {"type":"point","shape":"M-1,-0.28H1V0.28H-1Z","filled":true,"color":"#ff0000","opacity":1,"size":1681,"xOffset":25},
  "encoding": {
    "x": {"datum":"2019-09-23","type":"ordinal"},
    "y": {"field":"p","type":"quantitative"}
  }
},
{
  "data": {"name":"levels"},
  "mark": {"type":"text","font":"Liberation Sans","fontSize":9.5,"color":"#ffffff","align":"center","baseline":"middle","dx":24},
  "encoding": {
    "x": {"datum":"2019-09-23","type":"ordinal"},
    "y": {"field":"p","type":"quantitative"},
    "text": {"field":"p","format":".5f"}
  }
}
]
}
